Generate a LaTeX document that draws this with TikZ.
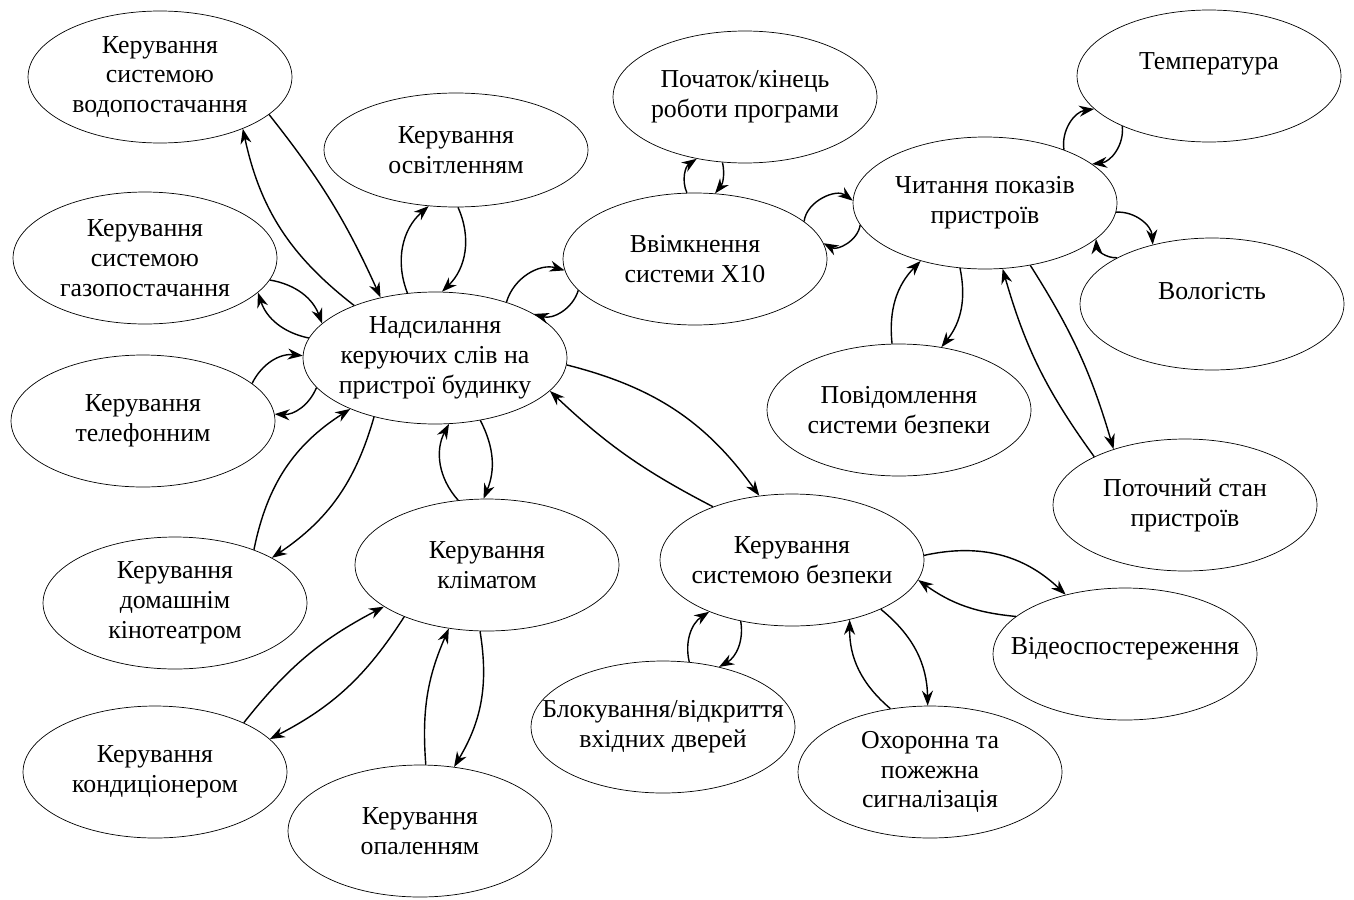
\documentclass[tikz,border=0pt]{standalone}
\usepackage{fontspec}
\setmainfont{Liberation Serif}
\usetikzlibrary{shapes.geometric, arrows.meta}
\tikzstyle{oval} = [ellipse, 
draw=black, 
line width=0.4pt,
minimum width=5.28cm, 
minimum height=2.64cm, 
inner xsep=-1cm, 
inner ysep=0pt,
align=center, 
font=\fontsize{14.7}{17}\selectfont]
\tikzstyle{arrow} = [line width=0.8pt, -{Stealth[length=3mm, width=2.2mm]}]

\begin{document}
\begin{tikzpicture}[x=0.02cm, y=-0.02cm]
        \useasboundingbox (0,0) rectangle (1354,899);

        % --- Вузли ---
        \node (central) [oval] at (435,358) {Надсилання\\керуючих слів на\\пристрої будинку};

        \node (water) [oval] at (160,77) {Керування\\системою\\водопостачання};
        \node (light) [oval, minimum height=2.28cm] at (456,150) {Керування\\освітленням};
        \node (gas) [oval] at (145,258) {Керування\\системою\\газопостачання};
        \node (phone) [oval] at (143,421) {Керування\\телефонним};
        \node (cinema) [oval] at (175,603) {Керування\\домашнім\\кінотеатром};
        \node (cond) [oval] at (155,772) {Керування\\кондиціонером};
        \node (climate) [oval] at (487,565) {Керування\\кліматом};
        \node (heat) [oval] at (420,831) {Керування\\опаленням};

        \node (start) [oval] at (745,97) {Початок/кінець\\роботи програми};
        \node (xten) [oval] at (695,259) {Ввімкнення\\системи X10};
        \node (reading) [oval] at (985,203) {Читання показів\\пристроїв};
        \node (temp) [oval, text depth=17pt] at (1209,76) {Температура};
        \node (humid) [oval, text depth=15pt] at (1212,304) {Вологість};
        \node (notif) [oval] at (899,410) {Повідомлення\\системи безпеки};
        \node (current) [oval] at (1185,505) {Поточний стан\\пристроїв};

        \node (security) [oval] at (792,560) {Керування\\системою безпеки};
        \node (video) [oval, text depth=9pt] at (1125,654) {Відеоспостереження};
        \node (doors) [oval] at (663,727) {Блокування/відкриття\\вхідних дверей};
        \node (alarm) [oval] at (930,772) {Охоронна та\\пожежна\\сигналізація};

        % --- Зв'язки ---
        \draw [arrow] (water.-19) to[bend left=7] (central.132);
        \draw [arrow] (central.147) to[bend left=20] (water.-32);

        \draw [arrow] (central.113) to[bend left=35] (light.-116);
        \draw [arrow] (light.-88) to[bend left=35] (central.84);

        \draw [arrow] (gas.-10) to[bend left=30] (central.163);
        \draw [arrow] (central.171) to[bend left=30] (gas.-17);

        \draw [arrow] (phone.19) to[bend left=35] (central.179);
        \draw [arrow] (central.194) to[bend left=35] (phone.3);

        \draw [arrow] (cinema.34) to[bend left=23] (central.-149);
        \draw [arrow] (central.-136) to[bend left=20] (cinema.25);

        \draw [arrow] (central.-54) to[bend left=25] (climate.93);
        \draw [arrow] (climate.114) to[bend left=35] (central.-78);

        \draw [arrow] (climate.-96) to[bend left=20] (heat.62);
        \draw [arrow] (heat.85) to[bend left=14] (climate.-121);

        \draw [arrow] (cond.29) to[bend left=12] (climate.-158);
        \draw [arrow] (climate.-148) to[bend left=15] (cond.16);

        \draw [arrow] (central.38) to[bend left=45] (xten.185);
        \draw [arrow] (xten.195) to[bend left=45] (central.24);

        \draw [arrow] (xten.97) to[bend left=40] (start.-128);
        \draw [arrow] (start.-109) to[bend left=25] (xten.73);

        \draw [arrow] (xten.19) to[bend left=60] (reading.179);
        \draw [arrow] (reading.190) to[bend left=55] (xten.7);

        \draw [arrow] (reading.34) to[bend left=45] (temp.196);
        \draw [arrow] (temp.-150) to[bend left=45] (reading.20);

        \draw [arrow] (reading.-4) to[bend left=45] (humid.135);
        \draw [arrow] (humid.154) to[bend left=45] (reading.-18);

        \draw [arrow] (notif.96) to[bend left=25] (reading.-138);
        \draw [arrow] (reading.-111) to[bend left=25] (notif.56);

        \draw [arrow] (reading.-54) to[bend left=8] (current.142);
        \draw [arrow] (current.152) to[bend left=10] (reading.-75);

        \draw [arrow] (central.-3) to[bend left=20] (security.117);
        \draw [arrow] (security.146) to[bend left=8] (central.-16);

        \draw [arrow] (security.2) to[bend left=28] (video.135);
        \draw [arrow] (video.161) to[bend left=15] (security.-9);

        \draw [arrow] (doors.68) to[bend left=35] (security.-148);
        \draw [arrow] (security.-130) to[bend left=35] (doors.47);

        \draw [arrow] (security.-29) to[bend left=25] (alarm.92);
        \draw [arrow] (alarm.122) to[bend left=25] (security.-46);

    \end{tikzpicture}
\end{document}
